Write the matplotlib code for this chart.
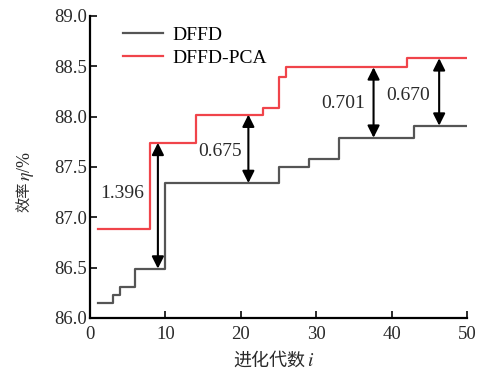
import matplotlib.pyplot as plt

plt.rcParams['font.family'] = ['Liberation Serif', 'Noto Sans CJK SC']
plt.rcParams['mathtext.fontset'] = 'stix'

# step data: generation where value changes, value held until next change
dffd_x = [1, 3, 4, 6, 10, 25, 29, 33, 43, 50]
dffd_y = [86.15, 86.23, 86.31, 86.49, 87.34, 87.50, 87.58, 87.79, 87.91, 87.91]
pca_x = [1, 8, 14, 23, 25, 26, 42, 50]
pca_y = [86.88, 87.74, 88.02, 88.09, 88.39, 88.49, 88.58, 88.58]

# gap arrows: x, top, bottom, label, label x, label y
arrow_x = [9, 21, 37.6, 46.3]
arrow_top = [87.74, 88.02, 88.49, 88.58]
arrow_bot = [86.49, 87.34, 87.79, 87.91]
gap_labels = ["1.396", "0.675", "0.701", "0.670"]
label_x = [4.2, 17.2, 33.6, 42.2]
label_y = [87.24, 87.65, 88.13, 88.21]

txt = '#2a2a2a'
fig = plt.figure(figsize=(4.84, 3.71), dpi=100)
ax = fig.add_axes([0.186, 0.143, 0.779, 0.814])

ax.step(dffd_x, dffd_y, where='post', color='#555555', lw=1.6, label='DFFD')
ax.step(pca_x, pca_y, where='post', color='#f0444a', lw=1.6, label='DFFD-PCA')

for x, t, b in zip(arrow_x, arrow_top, arrow_bot):
    ax.annotate('', xy=(x, b), xytext=(x, t),
                arrowprops=dict(arrowstyle='<|-|>', color='black', lw=1.5,
                                mutation_scale=18, shrinkA=0, shrinkB=0))
for s, x, y in zip(gap_labels, label_x, label_y):
    ax.text(x, y, s, ha='center', va='center', fontsize=14, color=txt)

ax.set_xlim(0, 50)
ax.set_ylim(86.0, 89.0)
ax.set_xticks(range(0, 51, 10))
ax.set_yticks([86.0, 86.5, 87.0, 87.5, 88.0, 88.5, 89.0])
ax.set_yticklabels([f"{v:.1f}" for v in ax.get_yticks()])
ax.spines['top'].set_visible(False)
ax.spines['right'].set_visible(False)
for sp in ['left', 'bottom']:
    ax.spines[sp].set_linewidth(1.6)
ax.tick_params(direction='in', length=5, width=1.4, labelsize=13.5, colors=txt)
ax.tick_params(axis='x', pad=6)
ax.tick_params(axis='y', pad=2)

# axis labels: Chinese and italic math parts drawn separately
fig.text(305 / 484, 1 - 361 / 371, '进化代数', family='Noto Sans CJK SC',
         fontsize=13, ha='right', va='center', color=txt)
fig.text(307 / 484, 1 - 361 / 371, '$i$', fontsize=14, ha='left', va='center', color=txt)
fig.text(25 / 484, 1 - 212 / 371, '效率', family='Noto Sans CJK SC',
         fontsize=11, rotation=90, ha='center', va='bottom', color=txt)
fig.text(25 / 484, 1 - 181 / 371, '$\\eta$/%', fontsize=13, rotation=90,
         ha='center', va='bottom', color=txt)

ax.legend(loc='upper left', bbox_to_anchor=(0.04, 1.025), frameon=False, fontsize=14,
          handlelength=2.1, handletextpad=0.45, labelspacing=0.3)

fig.savefig('out.png', dpi=100)
